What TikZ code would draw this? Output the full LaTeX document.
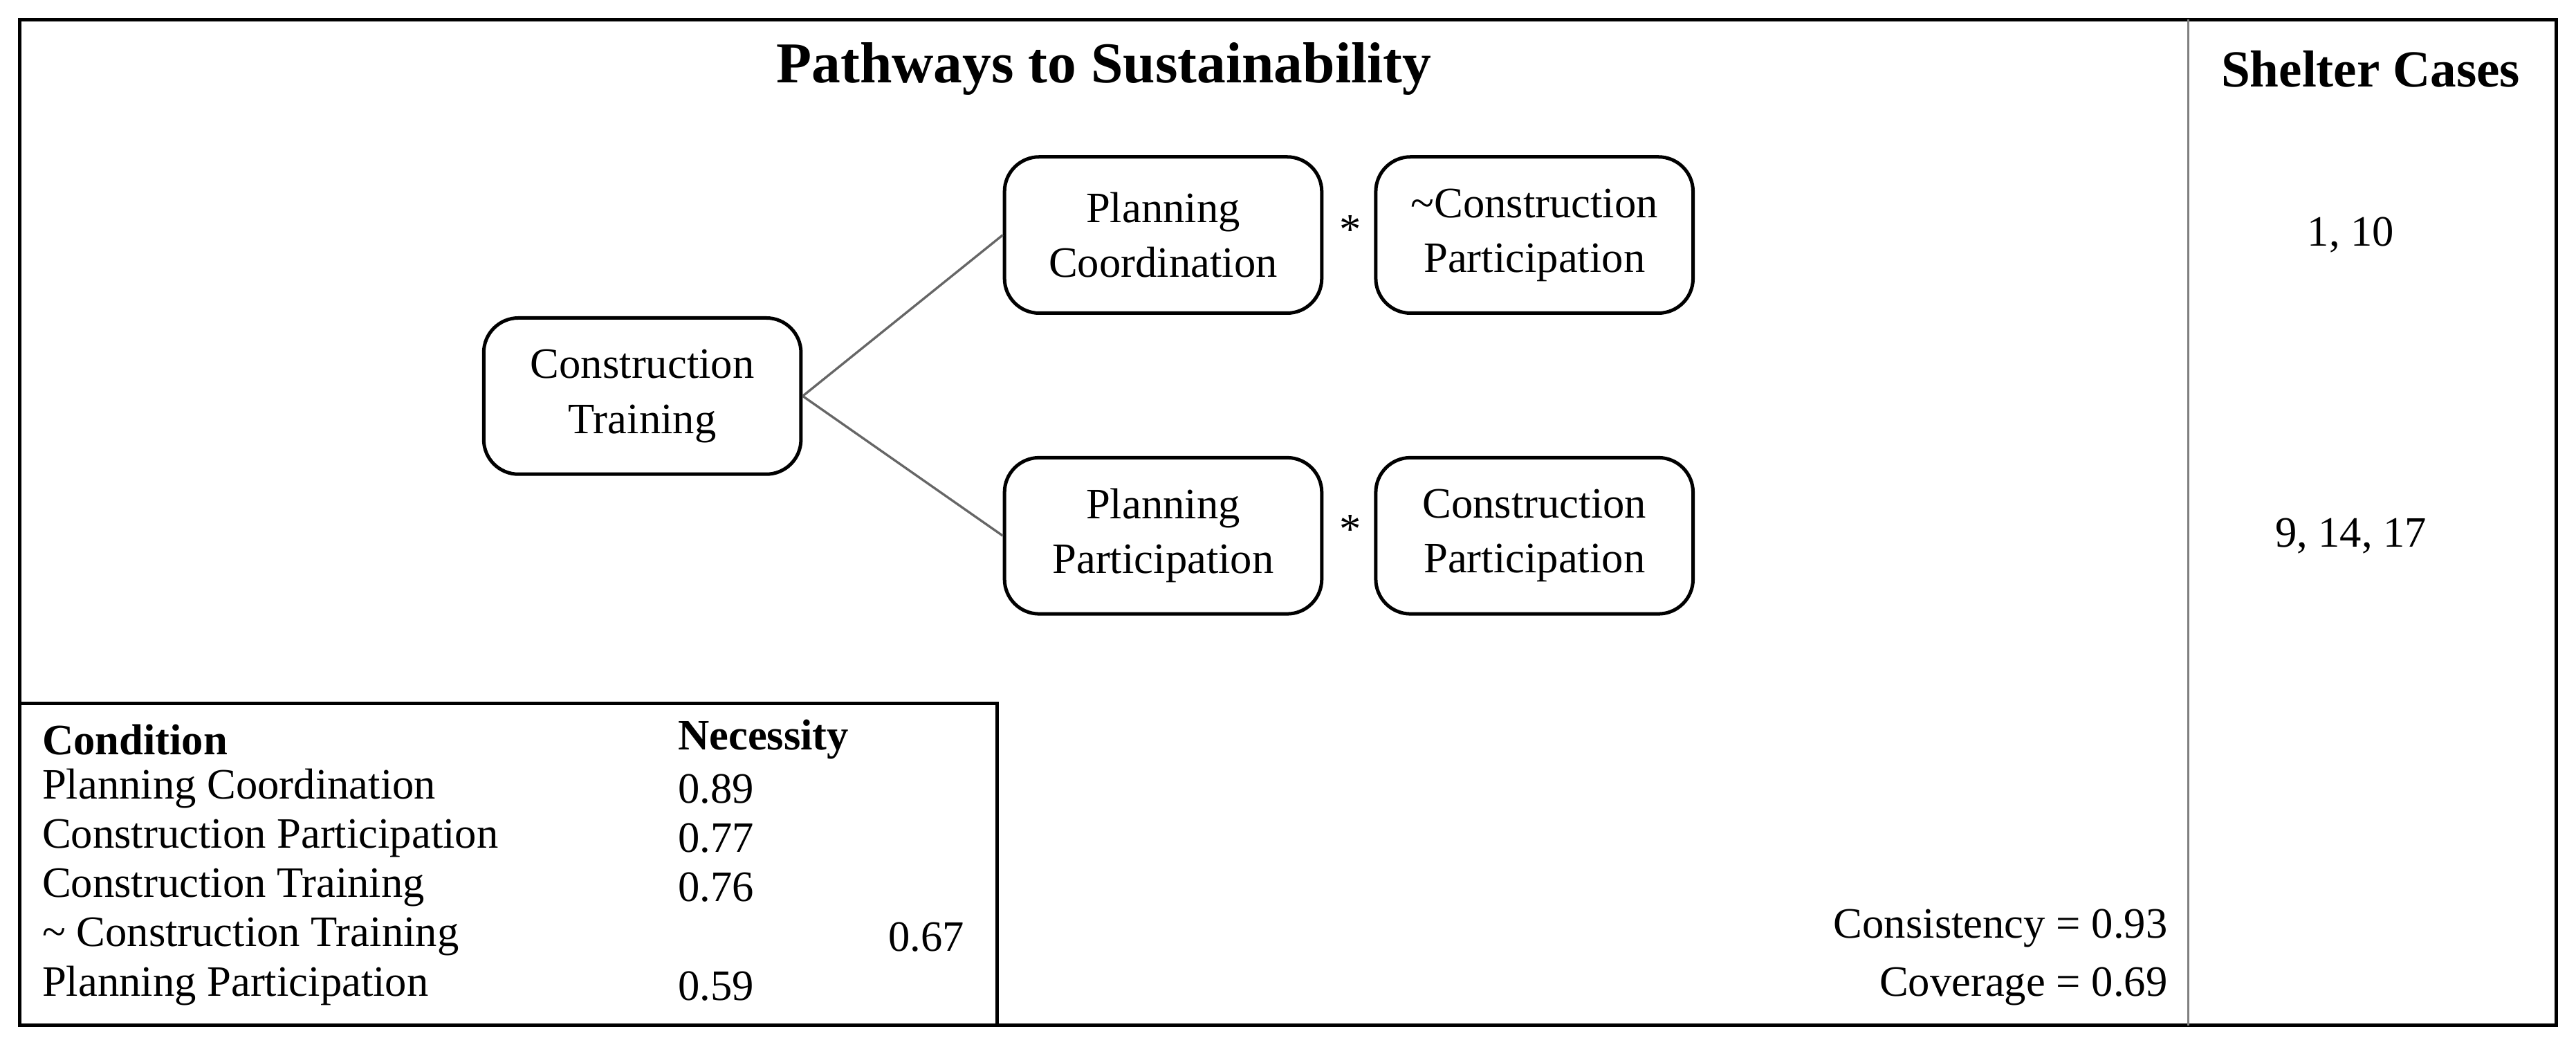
\documentclass[tikz,border=0pt]{standalone}
\usepackage{fontspec}
\setmainfont{Liberation Serif}
\begin{document}
\begin{tikzpicture}[x=0.01cm,y=-0.01cm,
  bx/.style={draw,rounded corners=6pt,line width=0.6pt,minimum width=1.93cm,minimum height=0.95cm,align=center,font=\fontsize{7.5}{9.5}\selectfont},
  txt/.style={font=\fontsize{7.5}{9}\selectfont,inner sep=0pt},
  ln/.style={draw=gray!80!black,line width=0.4pt}]
\useasboundingbox (0,0) rectangle (1568,637);
\draw[line width=0.6pt] (12,12) rectangle (1556,624);
\draw[line width=0.4pt,gray] (1332,12) -- (1332,624);
\node[font=\fontsize{10}{12}\selectfont\bfseries] (title) at (672,42) {Pathways to Sustainability};
\node[font=\fontsize{9}{11}\selectfont\bfseries] (sc) at (1443,42) {Shelter Cases};
\node[bx] (ct) at (391,241) {Construction\\Training};
\node[bx] (pc) at (708,143) {Planning\\Coordination};
\node[bx] (ncp) at (934,143) {\textasciitilde Construction\\Participation};
\node[bx] (pp) at (708,326) {Planning\\Participation};
\node[bx] (cp) at (934,326) {Construction\\Participation};
\node[txt] (s1) at (822,140) {*};
\node[txt] (s2) at (822,322) {*};
\draw[ln] (ct.east) -- (pc.west);
\draw[ln] (ct.east) -- (pp.west);
\node[txt] (c1) at (1431,143) {1, 10};
\node[txt] (c2) at (1431,326) {9, 14, 17};
\draw[line width=0.6pt] (12,428) rectangle (607,624);
\node[txt,anchor=west,font=\fontsize{7.5}{9}\selectfont\bfseries] (h1) at (25,450) {Condition};
\node[txt,anchor=west,font=\fontsize{7.5}{9}\selectfont\bfseries] (h2) at (412,450) {Necessity};
\node[txt,anchor=west] (r1) at (25,480) {Planning Coordination};
\node[txt,anchor=west] (v1) at (412,480) {0.89};
\node[txt,anchor=west] (r2) at (25,510) {Construction Participation};
\node[txt,anchor=west] (v2) at (412,510) {0.77};
\node[txt,anchor=west] (r3) at (25,540) {Construction Training};
\node[txt,anchor=west] (v3) at (412,540) {0.76};
\node[txt,anchor=west] (r4) at (25,570) {\textasciitilde{} Construction Training};
\node[txt,anchor=west] (v4) at (540,570) {0.67};
\node[txt,anchor=west] (r5) at (25,600) {Planning Participation};
\node[txt,anchor=west] (v5) at (412,600) {0.59};
\node[txt,anchor=east] (cons) at (1320,565) {Consistency = 0.93};
\node[txt,anchor=east] (cov) at (1320,600) {Coverage = 0.69};
\end{tikzpicture}
\end{document}
